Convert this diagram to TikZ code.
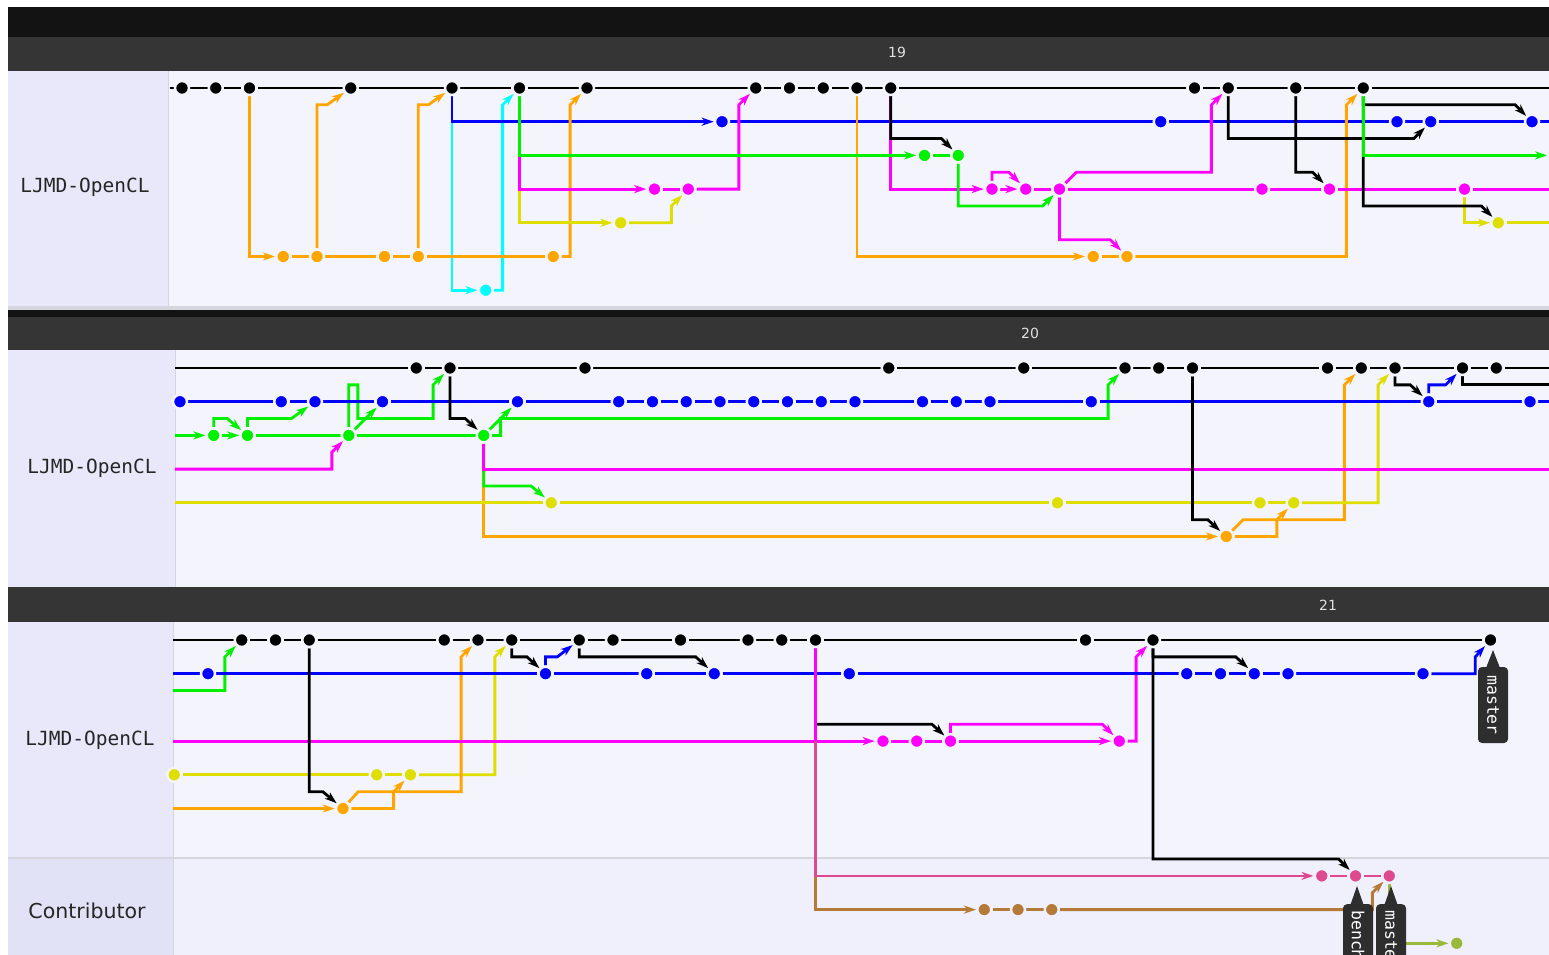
\documentclass[tikz,border=0pt]{standalone}
\usepackage{fontspec}
\newfontfamily\monof{DejaVu Sans Mono}
\newfontfamily\sansf{DejaVu Sans}
\usetikzlibrary{arrows.meta}
\pgfdeclarelayer{bgl}
\pgfdeclarelayer{edges}
\pgfsetlayers{bgl,edges,main}
\definecolor{cK}{HTML}{000000}
\definecolor{cB}{HTML}{0000FF}
\definecolor{cG}{HTML}{00F000}
\definecolor{cM}{HTML}{FF00FF}
\definecolor{cY}{HTML}{DEDE00}
\definecolor{cO}{HTML}{FFA500}
\definecolor{cC}{HTML}{00FFFF}
\definecolor{cP}{HTML}{DD4A8F}
\definecolor{cW}{HTML}{B47A38}
\definecolor{cV}{HTML}{9AB83A}
\definecolor{gbg}{HTML}{F4F4FD}
\definecolor{cbg}{HTML}{F0F0FC}
\definecolor{lcol}{HTML}{E8E8FA}
\definecolor{lcoltwo}{HTML}{E2E2F6}
\definecolor{topbar}{HTML}{131313}
\definecolor{hdr}{HTML}{353535}
\definecolor{sepc}{HTML}{D6D6DE}
\definecolor{tagc}{HTML}{2E2E2E}
\tikzset{
  cmt/.style={circle,inner sep=0pt,minimum size=14pt,fill=#1,draw=gbg,line width=2.5pt},
  cmtc/.style={cmt=#1,draw=cbg},
  edgeln/.style={draw=#1,line width=2.8pt},
  edgear/.style={edgeln=#1,-{Stealth[length=12pt,width=8pt,inset=3.5pt]}},
  hdrtxt/.style={text=white!88!black,font=\sansf\fontsize{14}{14}\selectfont,inner sep=0pt},
  rowlbl/.style={text=black!85,font=\monof\fontsize{19.5}{19.5}\selectfont,inner sep=0pt},
  tagbox/.style={fill=tagc,rounded corners=4pt,text=white,font=\monof\fontsize{16.5}{16.5}\selectfont,rotate=-90,minimum height=30pt,inner ysep=0pt},
}
\begin{document}
\begin{tikzpicture}[x=1pt,y=-1pt]
\useasboundingbox (0,0) rectangle (1549,955);
\begin{pgfonlayer}{bgl}
\fill[white] (0,0) rectangle (1549,955);
\fill[topbar] (8,7) rectangle (1549,37);
\fill[hdr] (8,37) rectangle (1549,71);
\fill[lcol] (8,71) rectangle (168,308);
\fill[gbg] (168,71) rectangle (1549,308);
\fill[sepc] (8,306) rectangle (1549,310);
\fill[topbar] (8,310) rectangle (1549,317);
\fill[hdr] (8,317) rectangle (1549,350);
\fill[lcol] (8,350) rectangle (175,587);
\fill[gbg] (175,350) rectangle (1549,587);
\fill[hdr] (8,587) rectangle (1549,622);
\fill[lcol] (8,622) rectangle (173,858);
\fill[gbg] (173,622) rectangle (1549,858);
\fill[lcoltwo] (8,858) rectangle (173,955);
\fill[cbg] (173,858) rectangle (1549,955);
\draw[sepc,line width=1pt] (168,71) -- (168,306) (175,350) -- (175,587) (173,622) -- (173,955);
\draw[sepc,line width=1.5pt] (8,858) -- (1549,858);
\end{pgfonlayer}
% headers and row labels
\node[hdrtxt] (h19) at (897,52) {19};
\node[hdrtxt] (h20) at (1030,333) {20};
\node[hdrtxt] (h21) at (1328,605) {21};
\node[rowlbl] (l1) at (85,187) {LJMD-OpenCL};
\node[rowlbl] (l2) at (92,468) {LJMD-OpenCL};
\node[rowlbl] (l3) at (90,740) {LJMD-OpenCL};
\node[text=black!85,font=\sansf\fontsize{20.5}{20.5}\selectfont,inner sep=0pt] (l4) at (87,911) {Contributor};

% ================= panel 19 =================
\begin{scope}[shift={(182pt,-88pt)},x=33.75pt,y=-33.7pt]
\foreach \i in {0,1,2,5,8,10,12,17,18,19,20,21,30,31,33,35} \node[cmt=cK] (a\i k) at (\i,0) {};
\foreach \i in {16,29,36,37,40} \node[cmt=cB] (a\i b) at (\i,1) {};
\foreach \i in {22,23} \node[cmt=cG] (a\i g) at (\i,2) {};
\foreach \i in {14,15,24,25,26,32,34,38} \node[cmt=cM] (a\i m) at (\i,3) {};
\foreach \i in {13,39} \node[cmt=cY] (a\i y) at (\i,4) {};
\foreach \i in {3,4,6,7,11,27,28} \node[cmt=cO] (a\i o) at (\i,5) {};
\node[cmt=cC] (a9c) at (9,6) {};
\coordinate (aKs) at (-0.36,0);
\coordinate (aKe) at (40.5,0);
\coordinate (aBe) at (40.5,1);
\coordinate (aGe) at (40.45,2);
\coordinate (aMe) at (40.5,3);
\coordinate (aYe) at (40.5,4);
\begin{pgfonlayer}{edges}
% cyan
\draw[edgear=cC] (a8k) |- (a9c);
\draw[edgear=cC] (a9c) -- (9.5,6) -- (9.5,0.5) -- (a10k);
% blue
\draw[edgear=cB] (a8k) |- (a16b);
\draw[edgeln=cB] (a16b) -- (a29b) -- (a36b) -- (a37b) -- (a40b) -- (aBe);
% orange
\draw[edgear=cO] (a2k) |- (a3o);
\draw[edgeln=cO] (a3o) -- (a4o) -- (a6o) -- (a7o) -- (a11o);
\draw[edgear=cO] (a4o) -- (4,0.5) -- (4.3,0.5) -- (a5k);
\draw[edgear=cO] (a7o) -- (7,0.5) -- (7.3,0.5) -- (a8k);
\draw[edgear=cO] (a11o) -- (11.5,5) -- (11.5,0.5) -- (a12k);
\draw[edgear=cO] (a20k) |- (a27o);
\draw[edgeln=cO] (a27o) -- (a28o);
\draw[edgear=cO] (a28o) -- (34.5,5) -- (34.5,0.5) -- (a35k);
% yellow
\draw[edgear=cY] (a10k) |- (a13y);
\draw[edgear=cY] (a13y) -- (14.5,4) -- (14.5,3.5) -- (a15m);
\draw[edgear=cY] (a38m) |- (a39y);
\draw[edgeln=cY] (a39y) -- (aYe);
% magenta
\draw[edgear=cM] (a10k) |- (a14m);
\draw[edgeln=cM] (a14m) -- (a15m);
\draw[edgear=cM] (a15m) -- (16.5,3) -- (16.5,0.5) -- (a17k);
\draw[edgear=cM] (a21k) |- (a24m);
\draw[edgear=cM] (a24m) -- (a25m);
\draw[edgear=cM] (a24m) -- (24,2.5) -- (24.5,2.5) -- (a25m);
\draw[edgeln=cM] (a25m) -- (a26m) -- (a32m) -- (a34m) -- (a38m) -- (aMe);
\draw[edgear=cM] (a26m) -- (26.5,2.5) -- (30.5,2.5) -- (30.5,0.5) -- (a31k);
\draw[edgear=cM] (a26m) -- (26,4.5) -- (27.5,4.5) -- (a28o);
% green
\draw[edgear=cG] (a10k) |- (a22g);
\draw[edgeln=cG] (a22g) -- (a23g);
\draw[edgear=cG] (a23g) -- (23,3.5) -- (25.5,3.5) -- (a26m);
% black
\draw[edgeln=cK] (aKs) -- (a0k) -- (a1k) -- (a2k) -- (a5k) -- (a8k) -- (a10k) -- (a12k) -- (a17k) -- (a18k) -- (a19k) -- (a20k) -- (a21k) -- (a30k) -- (a31k) -- (a33k) -- (a35k) -- (aKe);
\draw[edgear=cK] (a21k) -- (21,1.5) -- (22.5,1.5) -- (a23g);
\draw[edgear=cK] (a31k) -- (31,1.5) -- (36.5,1.5) -- (a37b);
\draw[edgear=cK] (a33k) -- (33,2.5) -- (33.5,2.5) -- (a34m);
\draw[edgear=cK] (a35k) -- (35,0.5) -- (39.5,0.5) -- (a40b);
\draw[edgear=cK] (a35k) -- (35,3.5) -- (38.5,3.5) -- (a39y);
\draw[edgear=cG] (a35k) |- (aGe);
\end{pgfonlayer}
\end{scope}

% ================= panel 20 =================
\begin{scope}[shift={(180pt,-368pt)},x=33.75pt,y=-33.7pt]
\foreach \i in {7,8,12,21,25,28,29,30,34,35,36,38,39} \node[cmt=cK] (b\i k) at (\i,0) {};
\foreach \i in {0,3,4,6,10,13,14,15,16,17,18,19,20,22,23,24,27,37,40} \node[cmt=cB] (b\i b) at (\i,1) {};
\foreach \i in {1,2,5,9} \node[cmt=cG] (b\i g) at (\i,2) {};
\foreach \i in {11,26,32,33} \node[cmt=cY] (b\i y) at (\i,4) {};
\node[cmt=cO] (b31o) at (31,5) {};
\coordinate (bKs) at (-0.15,0);
\coordinate (bKe) at (40.6,0);
\coordinate (bKx) at (40.6,0.5);
\coordinate (bBe) at (40.6,1);
\coordinate (bGs) at (-0.15,2);
\coordinate (bMs) at (-0.15,3);
\coordinate (bMe) at (40.6,3);
\coordinate (bYs) at (-0.15,4);
\begin{pgfonlayer}{edges}
% orange
\draw[edgear=cO] (b9g) |- (b31o);
\draw[edgear=cO] (b31o) -- (31.5,4.5) -- (34.5,4.5) -- (34.5,0.5) -- (b35k);
\draw[edgear=cO] (b31o) -- (32.5,5) -- (32.5,4.5) -- (b33y);
% yellow
\draw[edgeln=cY] (bYs) -- (b11y) -- (b26y) -- (b32y) -- (b33y);
\draw[edgear=cY] (b33y) -- (35.5,4) -- (35.5,0.5) -- (b36k);
\draw[edgear=cG] (b9g) -- (9,3.5) -- (10.4,3.5) -- (b11y);
% magenta
\draw[edgear=cM] (bMs) -- (4.5,3) -- (4.5,2.5) -- (b5g);
\draw[edgeln=cM] (b9g) |- (bMe);
% green
\draw[edgear=cG] (bGs) -- (b1g);
\draw[edgear=cG] (b1g) -- (b2g);
\draw[edgear=cG] (b1g) -- (1,1.5) -- (1.4,1.5) -- (b2g);
\draw[edgeln=cG] (b2g) -- (b5g) -- (b9g);
\draw[edgear=cG] (b2g) -- (2,1.5) -- (3.3,1.5) -- (b4b);
\draw[edgear=cG] (b5g) -- (b6b);
\draw[edgear=cG] (b5g) -- (5,0.5) -- (5.27,0.5) -- (5.27,1.5) -- (7.5,1.5) -- (7.5,0.5) -- (b8k);
\draw[edgear=cG] (b9g) -- (b10b);
\draw[edgear=cG] (b9g) -- (9.5,2) -- (9.5,1.5) -- (27.5,1.5) -- (27.5,0.5) -- (b28k);
% blue
\draw[edgeln=cB] (b0b) -- (b3b) -- (b4b) -- (b6b) -- (b10b) -- (b13b) -- (b14b) -- (b15b) -- (b16b) -- (b17b) -- (b18b) -- (b19b) -- (b20b) -- (b22b) -- (b23b) -- (b24b) -- (b27b) -- (b37b) -- (b40b) -- (bBe);
\draw[edgear=cB] (b37b) -- (37,0.5) -- (37.5,0.5) -- (b38k);
% black
\draw[edgeln=cK] (bKs) -- (b7k) -- (b8k) -- (b12k) -- (b21k) -- (b25k) -- (b28k) -- (b29k) -- (b30k) -- (b34k) -- (b35k) -- (b36k) -- (b38k) -- (b39k) -- (bKe);
\draw[edgear=cK] (b8k) -- (8,1.5) -- (8.45,1.5) -- (b9g);
\draw[edgear=cK] (b30k) -- (30,4.5) -- (30.45,4.5) -- (b31o);
\draw[edgear=cK] (b36k) -- (36,0.5) -- (36.45,0.5) -- (b37b);
\draw[edgeln=cK] (b38k) -- (38,0.5) -- (bKx);
\end{pgfonlayer}
\end{scope}

% ================= panel 21 =================
\begin{scope}[shift={(208pt,-640pt)},x=33.75pt,y=-33.7pt]
\foreach \i in {1,2,3,7,8,9,11,12,14,16,17,18,26,28,38} \node[cmt=cK] (c\i k) at (\i,0) {};
\foreach \i in {0,10,13,15,19,29,30,31,32,36} \node[cmt=cB] (c\i b) at (\i,1) {};
\foreach \i in {20,21,22,27} \node[cmt=cM] (c\i m) at (\i,3) {};
\node[cmt=cY] (cny) at (-1,4) {};
\foreach \i in {5,6} \node[cmt=cY] (c\i y) at (\i,4) {};
\node[cmt=cO] (c4o) at (4,5) {};
\foreach \i in {33,34,35} \node[cmtc=cP] (c\i p) at (\i,7) {};
\foreach \i in {23,24,25} \node[cmtc=cW] (c\i w) at (\i,8) {};
\node[cmtc=cV] (c37v) at (37,9) {};
\coordinate (cKs) at (-1.04,0);
\coordinate (cBs) at (-1.04,1);
\coordinate (cGs) at (-1.04,1.5);
\coordinate (cMs) at (-1.04,3);
\coordinate (cOs) at (-1.04,5);
\coordinate (cmid) at (18,3);
\coordinate (cfork) at (18,7);
\begin{pgfonlayer}{edges}
% yellow
\draw[edgeln=cY] (cny) -- (c5y) -- (c6y);
\draw[edgear=cY] (c6y) -- (8.5,4) -- (8.5,0.5) -- (c9k);
% orange
\draw[edgear=cO] (cOs) -- (c4o);
\draw[edgear=cO] (c4o) -- (4.45,4.5) -- (7.5,4.5) -- (7.5,0.5) -- (c8k);
\draw[edgear=cO] (c4o) -- (5.5,5) -- (5.5,4.5) -- (c6y);
% green
\draw[edgear=cG] (cGs) -- (0.5,1.5) -- (0.5,0.5) -- (c1k);
% magenta
\draw[edgear=cM] (cMs) -- (c20m);
\draw[edgeln=cM] (c20m) -- (c21m) -- (c22m);
\draw[edgear=cM] (c22m) -- (c27m);
\draw[edgear=cM] (c22m) -- (22,2.5) -- (26.5,2.5) -- (c27m);
\draw[edgear=cM] (c27m) -- (27.5,3) -- (27.5,0.5) -- (c28k);
% contributor
\draw[edgear=cW] (cfork) -- (18,8) -- (c23w);
\draw[edgeln=cW] (c23w) -- (c24w) -- (c25w);
\draw[edgear=cW] (c25w) -- (34.5,8) -- (34.5,7.5) -- (c35p);
\draw[edgear=cP] (cmid) -- (cfork) -- (c33p);
\draw[edgeln=cP] (c33p) -- (c34p) -- (c35p);
\draw[edgear=cV] (c35p) |- (c37v);
% blue
\draw[edgeln=cB] (cBs) -- (c0b) -- (c10b) -- (c13b) -- (c15b) -- (c19b) -- (c29b) -- (c30b) -- (c31b) -- (c32b) -- (c36b);
\draw[edgear=cB] (c36b) -- (37.55,1) -- (37.55,0.5) -- (c38k);
\draw[edgear=cB] (c10b) -- (10,0.5) -- (10.35,0.5) -- (c11k);
% black
\draw[edgeln=cK] (cKs) -- (c1k) -- (c2k) -- (c3k) -- (c7k) -- (c8k) -- (c9k) -- (c11k) -- (c12k) -- (c14k) -- (c16k) -- (c17k) -- (c18k) -- (c26k) -- (c28k) -- (c38k);
\draw[edgear=cK] (c3k) -- (3,4.5) -- (3.4,4.5) -- (c4o);
\draw[edgear=cK] (c9k) -- (9,0.5) -- (9.45,0.5) -- (c10b);
\draw[edgear=cK] (c11k) -- (11,0.5) -- (14.45,0.5) -- (c15b);
\draw[edgear=cK] (c18k) -- (18,2.5) -- (21.45,2.5) -- (c22m);
\draw[edgear=cK] (c28k) -- (28,0.5) -- (30.45,0.5) -- (c31b);
\draw[edgear=cK] (c28k) -- (28,6.5) -- (33.5,6.5) -- (c34p);
\draw[edgeln=cM] (c18k) -- (cmid);
\end{pgfonlayer}
\end{scope}

% ================= tags =================
\begin{scope}
\clip (0,0) rectangle (1549,955);
\fill[tagc] (1486,668) -- (1493,650) -- (1500,668) -- cycle;
\node[tagbox,minimum width=76pt] (tmaster) at (1493,705) {master};
\fill[tagc] (1350,906) -- (1357,886) -- (1364,906) -- cycle;
\node[tagbox,anchor=west,text width=62pt,align=left,inner xsep=6pt] (tbench) at (1358,904) {bench};
\fill[tagc] (1384,906) -- (1391,886) -- (1398,906) -- cycle;
\node[tagbox,anchor=west,text width=62pt,align=left,inner xsep=6pt] (tmaste) at (1391,904) {master};
\end{scope}
\end{tikzpicture}
\end{document}
